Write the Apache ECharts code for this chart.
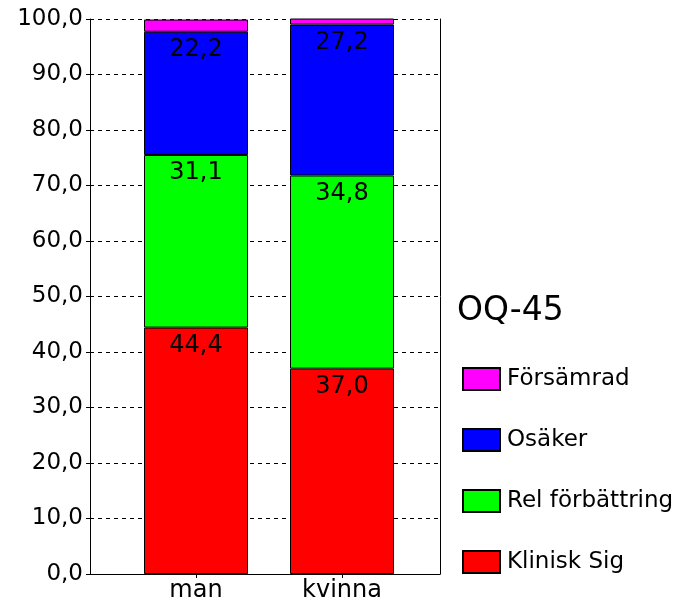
<!DOCTYPE html>
<html>
<head>
<meta charset="utf-8">
<script src="https://cdn.jsdelivr.net/npm/echarts@6/dist/echarts.min.js"></script>
<style>
  html, body { margin: 0; padding: 0; background: #fff; }
  #chart { width: 688px; height: 605px; }
</style>
</head>
<body>
<div id="chart"></div>
<script>
// Groups on the x axis
const categories = ['man', 'kvinna'];

// Percentage per outcome group (stacked bottom to top)
const kliniskSig = [44.4, 37.0];
const relForbattring = [31.1, 34.8];
const osaker = [22.2, 27.2];
const forsamrad = [2.2, 1.1];

// Y axis scale
const yMin = 0;
const yMax = 100;
const yStep = 10;

const legendTitle = 'OQ-45';
const legendOrder = ['Försämrad', 'Osäker', 'Rel förbättring', 'Klinisk Sig'];

const FONT = 'DejaVu Sans';
const fmt = v => Number(v).toFixed(1).replace('.', ',');

function barSeries(name, data, color, showLabel) {
  return {
    name: name,
    type: 'bar',
    stack: 'total',
    xAxisIndex: 1,
    yAxisIndex: 1,
    barWidth: 104,
    data: data,
    itemStyle: { color: color, borderColor: '#000', borderWidth: 1 },
    label: {
      show: showLabel,
      position: 'insideTop',
      distance: 6,
      fontFamily: FONT,
      fontSize: 24,
      color: '#000',
      formatter: p => fmt(p.value)
    },
    emphasis: { disabled: true }
  };
}

const chart = echarts.init(document.getElementById('chart'), null, { renderer: 'canvas' });

chart.setOption({
  animation: false,
  backgroundColor: '#fff',
  textStyle: { fontFamily: FONT },
  title: {
    text: legendTitle,
    left: 452,
    top: 290,
    textStyle: { fontFamily: FONT, fontSize: 33, fontWeight: 'normal', color: '#000' }
  },
  legend: {
    data: legendOrder,
    orient: 'vertical',
    left: 457,
    top: 362,
    itemWidth: 37,
    itemHeight: 22,
    itemGap: 37,
    icon: 'rect',
    selectedMode: false,
    textStyle: { fontFamily: FONT, fontSize: 23, color: '#000', padding: [0, 0, 0, 2] }
  },
  grid: [
    { left: 90, top: 19, right: 248, bottom: 31 },
    { left: 123, top: 19, right: 273, bottom: 31 }
  ],
  xAxis: [
    {
      gridIndex: 0,
      type: 'category',
      data: categories,
      axisLine: { show: true, lineStyle: { color: '#000', width: 1 } },
      axisTick: { show: false },
      axisLabel: { show: false },
      splitLine: { show: false }
    },
    {
      gridIndex: 1,
      type: 'category',
      data: categories,
      axisLine: { show: false },
      axisTick: { show: true, alignWithLabel: true, length: 4, lineStyle: { color: '#000' } },
      axisLabel: { fontFamily: FONT, fontSize: 24, color: '#000', margin: 5 },
      splitLine: { show: false }
    }
  ],
  yAxis: [
    {
      gridIndex: 0,
      type: 'value',
      min: yMin,
      max: yMax,
      interval: yStep,
      axisLine: { show: true, lineStyle: { color: '#000', width: 1 } },
      axisTick: { show: true, length: 4, lineStyle: { color: '#000' } },
      axisLabel: { fontFamily: FONT, fontSize: 23, color: '#000', margin: 7, formatter: v => fmt(v) },
      splitLine: { show: true, lineStyle: { color: '#000', type: [4, 4], width: 1 } }
    },
    {
      gridIndex: 1,
      type: 'value',
      min: yMin,
      max: yMax,
      interval: yStep,
      show: false
    },
    {
      gridIndex: 0,
      type: 'value',
      position: 'right',
      min: yMin,
      max: yMax,
      interval: yStep,
      axisLine: { show: true, lineStyle: { color: '#000', width: 1 } },
      axisTick: { show: false },
      axisLabel: { show: false },
      splitLine: { show: false }
    }
  ],
  series: [
    barSeries('Klinisk Sig', kliniskSig, '#ff0000', true),
    barSeries('Rel förbättring', relForbattring, '#00ff00', true),
    barSeries('Osäker', osaker, '#0000ff', true),
    barSeries('Försämrad', forsamrad, '#ff00ff', false)
  ]
});
</script>
</body>
</html>
